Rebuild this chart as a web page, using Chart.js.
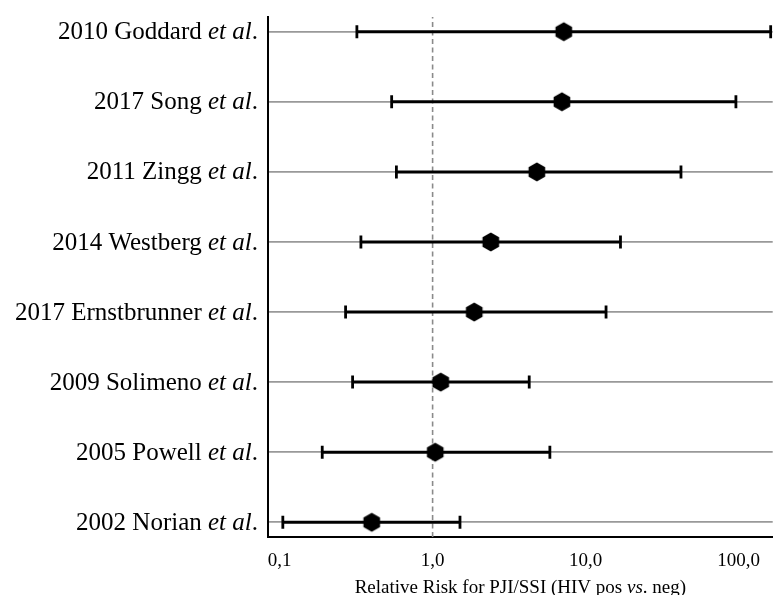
<!DOCTYPE html>
<html>
<head>
<meta charset="utf-8">
<title>Relative Risk for PJI/SSI</title>
<script src="https://cdn.jsdelivr.net/npm/chart.js@4"></script>
<style>
  html, body { margin: 0; padding: 0; background: #fff; overflow: hidden; }
  #wrap { width: 773px; height: 595px; position: relative; }
</style>
</head>
<body>
<div id="wrap"><canvas id="c"></canvas></div>
<script>
// Studies, top to bottom
const studies = ['2010 Goddard', '2017 Song', '2011 Zingg', '2014 Westberg',
                 '2017 Ernstbrunner', '2009 Solimeno', '2005 Powell', '2002 Norian'];
// Relative risk point estimates and 95% CI bounds
const rr     = [7.2, 7.0, 4.8, 2.4, 1.87, 1.13, 1.04, 0.40];
const ciLow  = [0.32, 0.54, 0.58, 0.34, 0.27, 0.30, 0.19, 0.105];
const ciHigh = [162, 96, 42, 16.9, 13.6, 4.28, 5.84, 1.51];
// Row positions on the vertical axis (top study highest)
const rowPos = [8, 7, 6, 5, 4, 3, 2, 1];
// Horizontal axis ticks
const xTickValues = [0.1, 1, 10, 100];
const xTickLabels = ['0,1', '1,0', '10,0', '100,0'];
const xTitleParts = [['Relative Risk for PJI/SSI (HIV pos ', false], ['vs', true], ['. neg)', false]];

const X_MIN = 0.084, X_MAX = 167;
const Y_MIN = 0.79, Y_MAX = 8.21;
const SERIF = "'Liberation Serif', 'Times New Roman', 'DejaVu Serif', serif";

// Filled hexagon marker (pointy top)
function hexMarker(r) {
  const size = Math.ceil(r * 2) + 2;
  const cv = document.createElement('canvas');
  cv.width = size; cv.height = size;
  const g = cv.getContext('2d');
  const c = size / 2;
  g.beginPath();
  for (let k = 0; k < 6; k++) {
    const a = Math.PI / 2 + k * Math.PI / 3;
    const px = c + r * Math.cos(a), py = c - r * Math.sin(a);
    if (k === 0) g.moveTo(px, py); else g.lineTo(px, py);
  }
  g.closePath();
  g.fillStyle = '#000';
  g.fill();
  return cv;
}
const hex = hexMarker(9.6);

const datasets = [];
// Point estimates
datasets.push({
  label: 'RR',
  data: rr.map((v, i) => ({ x: v, y: rowPos[i] })),
  pointStyle: hex,
  pointRadius: 10,
  showLine: false,
  order: 0
});
// Confidence intervals with end caps
studies.forEach((s, i) => {
  datasets.push({
    label: s,
    data: [{ x: ciLow[i], y: rowPos[i] }, { x: ciHigh[i], y: rowPos[i] }],
    showLine: true,
    borderColor: '#000',
    borderWidth: 3,
    pointStyle: 'line',
    rotation: 90,
    pointRadius: 6.5,
    pointBorderColor: '#000',
    pointBorderWidth: 2.8,
    order: 1
  });
});
// Reference line at RR = 1
datasets.push({
  label: 'ref',
  data: [{ x: 1, y: Y_MIN }, { x: 1, y: Y_MAX }],
  showLine: true,
  borderColor: '#8a8a8a',
  borderWidth: 1.6,
  borderDash: [5, 3.5],
  pointRadius: 0,
  order: 2
});

function drawParts(ctx, parts, size, xRef, y, align) {
  const widths = parts.map(([t, it]) => {
    ctx.font = (it ? 'italic ' : '') + size + 'px ' + SERIF;
    return ctx.measureText(t).width;
  });
  const total = widths.reduce((a, b) => a + b, 0);
  let x = align === 'right' ? xRef - total : xRef - total / 2;
  parts.forEach(([t, it], k) => {
    ctx.font = (it ? 'italic ' : '') + size + 'px ' + SERIF;
    ctx.fillText(t, x, y);
    x += widths[k];
  });
}

const labelPlugin = {
  id: 'forestLabels',
  afterDraw(chart) {
    const ctx = chart.ctx;
    const ys = chart.scales.y;
    const area = chart.chartArea;
    ctx.save();
    ctx.fillStyle = '#000';
    ctx.textAlign = 'left';
    ctx.textBaseline = 'middle';
    studies.forEach((s, i) => {
      const py = ys.getPixelForValue(rowPos[i]);
      drawParts(ctx, [[s + ' ', false], ['et al', true], ['.', false]], 25, area.left - 10, py + 1, 'right');
    });
    ctx.textBaseline = 'alphabetic';
    drawParts(ctx, xTitleParts, 19, (area.left + area.right) / 2, 593, 'center');
    ctx.restore();
  }
};

new Chart(document.getElementById('c'), {
  type: 'scatter',
  data: { datasets },
  plugins: [labelPlugin],
  options: {
    responsive: true,
    maintainAspectRatio: false,
    animation: false,
    devicePixelRatio: 1,
    layout: { autoPadding: false, padding: { top: 17, right: 0, bottom: 0, left: 0 } },
    plugins: { legend: { display: false }, tooltip: { enabled: false } },
    elements: { line: { tension: 0 } },
    scales: {
      x: {
        type: 'logarithmic',
        min: X_MIN,
        max: X_MAX,
        afterBuildTicks: s => { s.ticks = xTickValues.map(v => ({ value: v })); },
        afterFit: s => { s.height = 58; },
        grid: { display: false, drawTicks: false },
        border: { display: true, color: '#000', width: 2 },
        ticks: {
          autoSkip: false,
          maxRotation: 0,
          padding: 13,
          color: '#000',
          font: { family: SERIF, size: 19 },
          callback: (v) => {
            const k = xTickValues.findIndex(t => Math.abs(t - v) < 1e-9);
            return k >= 0 ? xTickLabels[k] : '';
          }
        }
      },
      y: {
        type: 'linear',
        min: Y_MIN,
        max: Y_MAX,
        afterBuildTicks: s => { s.ticks = rowPos.map(v => ({ value: v })); },
        afterFit: s => { s.width = 268; },
        grid: { color: '#999999', lineWidth: 1.8, drawTicks: false },
        border: { display: true, color: '#000', width: 2 },
        ticks: { display: false }
      }
    }
  }
});
</script>
</body>
</html>
